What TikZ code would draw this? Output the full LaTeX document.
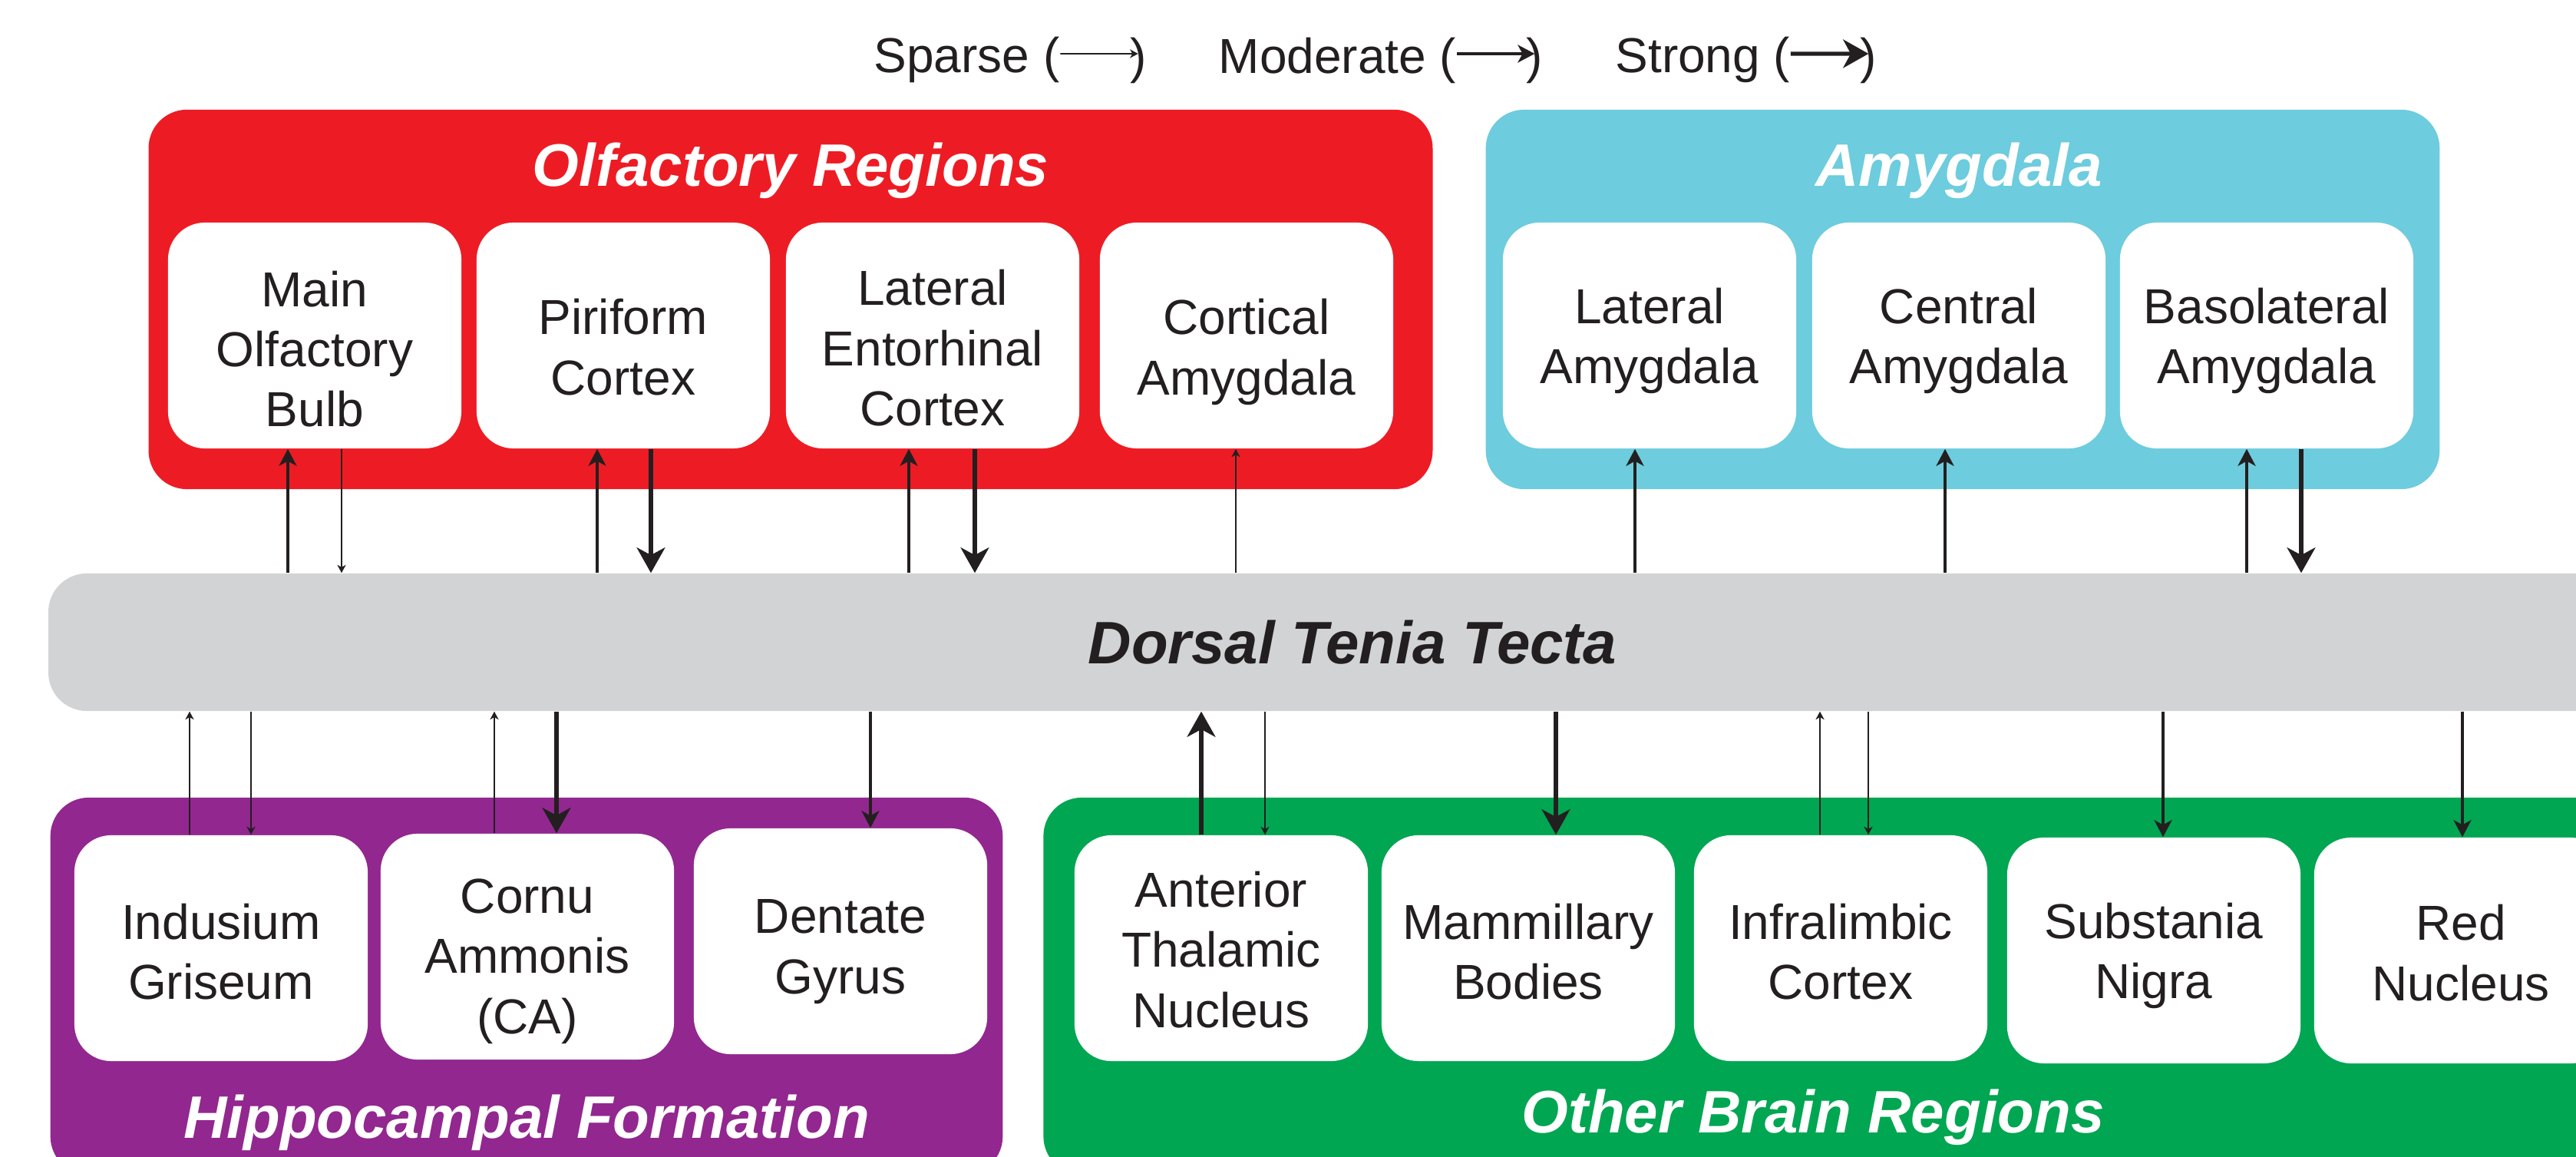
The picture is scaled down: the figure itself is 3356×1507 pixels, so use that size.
\documentclass[tikz,border=0pt]{standalone}
\usepackage{fontspec}
\setmainfont{Liberation Sans}
\usepackage{xcolor}
\definecolor{olfred}{RGB}{237,28,36}
\definecolor{amycyan}{RGB}{109,204,221}
\definecolor{hippurple}{RGB}{146,39,143}
\definecolor{othgreen}{RGB}{0,166,81}
\definecolor{dttgray}{RGB}{209,211,212}
\definecolor{ink}{RGB}{35,31,32}
\usepackage{tikz}
\usetikzlibrary{arrows.meta, positioning}

\newcommand{\regionfont}{\fontsize{18.2pt}{22.2pt}\selectfont}
\newcommand{\grouptitlefont}{\fontsize{22.2pt}{26pt}\selectfont\bfseries\itshape}

\begin{document}
\begin{tikzpicture}[
    x=0.01cm, y=-0.01cm,
    node distance=0.9cm,
    region/.style={
      rectangle, rounded corners=0.48cm,
      fill=white, text=ink,
      minimum width=3.82cm, minimum height=2.94cm,
      font=\regionfont, align=center,
      text depth=0pt, inner sep=0pt
    },
    % a taller text box pushes the text of a region box down
    drop/.style={text height=#1},
    group/.style={rectangle, rounded corners=0.5cm, inner sep=0pt},
    grouptitle/.style={font=\grouptitlefont, text=white, anchor=base},
    legendtext/.style={font=\regionfont, text=ink, inner sep=0pt},
    sparse/.style={-{Stealth[length=3pt, width=3.2pt, inset=0.9pt]}, line width=0.45pt, color=ink},
    moderate/.style={-{Stealth[length=6.3pt, width=6.6pt, inset=1.8pt]}, line width=0.9pt, color=ink},
    strong/.style={-{Stealth[length=9.4pt, width=10.5pt, inset=2.8pt]}, line width=1.45pt, color=ink}
  ]

  \useasboundingbox (0,0) rectangle (3356,1507);
  \clip (0,0) rectangle (3356,1507);

  % Legend
  \node[legendtext, anchor=base west] (sparsetxt) at (1138,95) {Sparse (};
  \node[legendtext, right=0.9cm of sparsetxt]    (sparsecls)   {)};
  \node[legendtext, right=0.93cm of sparsecls]   (moderatetxt) {Moderate (};
  \node[legendtext, right=0.9cm of moderatetxt]  (moderatecls) {)};
  \node[legendtext, right=0.93cm of moderatecls] (strongtxt)   {Strong (};
  \node[legendtext, right=0.9cm of strongtxt]    (strongcls)   {)};

  \draw[sparse]   ([yshift=0.25cm]sparsetxt.base east)   -- ([yshift=0.25cm]sparsecls.base);
  \draw[moderate] ([yshift=0.25cm]moderatetxt.base east) -- ([yshift=0.25cm]moderatecls.base);
  \draw[strong]   ([yshift=0.25cm]strongtxt.base east)   -- ([yshift=0.25cm]strongcls.base);

  % Region groups
  \node[group, fill=olfred,    minimum width=16.72cm, minimum height=4.94cm] (olf) at (1030,390) {};
  \node[group, fill=amycyan,   minimum width=12.42cm, minimum height=4.94cm] (amy) at (2557,390) {};
  \node[group, fill=hippurple, minimum width=12.40cm, minimum height=4.91cm] (hip) at (686,1284.5) {};
  \node[group, fill=othgreen,  minimum width=21.00cm, minimum height=4.91cm] (oth) at (2410,1284.5) {};
  \node[group, fill=dttgray, text=ink, font=\grouptitlefont,
        minimum width=33.96cm, minimum height=1.79cm] (dtt) at (1762,836.5) {Dorsal Tenia Tecta};

  \node[grouptitle] (olftitle) at (1030,243)  {Olfactory Regions};
  \node[grouptitle] (amytitle) at (2552,243)  {Amygdala};
  \node[grouptitle] (hiptitle) at (686,1482)  {Hippocampal Formation};
  \node[grouptitle] (othtitle) at (2362,1476) {Other Brain Regions};

  % Olfactory regions
  \node[region, drop=67.2pt] (mob) at (410,437)  {Main\\Olfactory\\Bulb};
  \node[region, drop=43.8pt] (pc)  at (812,437)  {Piriform\\Cortex};
  \node[region, drop=66.6pt] (lec) at (1215,437) {Lateral\\Entorhinal\\Cortex};
  \node[region, drop=43.8pt] (coa) at (1624,437) {Cortical\\Amygdala};

  % Amygdala
  \node[region] (la)  at (2149,437) {Lateral\\Amygdala};
  \node[region] (cea) at (2552,437) {Central\\Amygdala};
  \node[region] (bla) at (2953,437) {Basolateral\\Amygdala};

  % Hippocampal formation
  \node[region, drop=38.1pt] (ig) at (288,1235)  {Indusium\\Griseum};
  \node[region, drop=64.3pt] (ca) at (687,1233)  {Cornu\\Ammonis\\(CA)};
  \node[region, drop=38.7pt] (dg) at (1095,1226) {Dentate\\Gyrus};

  % Other brain regions
  \node[region, drop=58.6pt] (atn) at (1591,1235) {Anterior\\Thalamic\\Nucleus};
  \node[region, drop=38.1pt] (mb)  at (1991,1235) {Mammillary\\Bodies};
  \node[region, drop=38.1pt] (il)  at (2398,1235) {Infralimbic\\Cortex};
  \node[region]              (sn)  at (2806,1238) {Substania\\Nigra};
  \node[region, drop=37.0pt] (rn)  at (3206,1238) {Red\\Nucleus};

  % Arrows - upper row
  \draw[moderate] (dtt.north -| 375,0)  -- (mob.south -| 375,0);
  \draw[sparse]   (mob.south -| 445,0)  -- (dtt.north -| 445,0);
  \draw[moderate] (dtt.north -| 778,0)  -- (pc.south -| 778,0);
  \draw[strong]   (pc.south -| 848,0)   -- (dtt.north -| 848,0);
  \draw[moderate] (dtt.north -| 1184,0) -- (lec.south -| 1184,0);
  \draw[strong]   (lec.south -| 1270,0) -- (dtt.north -| 1270,0);
  \draw[sparse]   (dtt.north -| 1610,0) -- (coa.south -| 1610,0);
  \draw[moderate] (dtt.north -| 2130,0) -- (la.south -| 2130,0);
  \draw[moderate] (dtt.north -| 2534,0) -- (cea.south -| 2534,0);
  \draw[moderate] (dtt.north -| 2927,0) -- (bla.south -| 2927,0);
  \draw[strong]   (bla.south -| 2998,0) -- (dtt.north -| 2998,0);

  % Arrows - lower row
  \draw[sparse]   (ig.north -| 247,0)   -- (dtt.south -| 247,0);
  \draw[sparse]   (dtt.south -| 327,0)  -- (ig.north -| 327,0);
  \draw[sparse]   (ca.north -| 644,0)   -- (dtt.south -| 644,0);
  \draw[strong]   (dtt.south -| 725,0)  -- (ca.north -| 725,0);
  \draw[moderate] (dtt.south -| 1134,0) -- (dg.north -| 1134,0);
  \draw[strong]   (atn.north -| 1565,0) -- (dtt.south -| 1565,0);
  \draw[sparse]   (dtt.south -| 1648,0) -- (atn.north -| 1648,0);
  \draw[strong]   (dtt.south -| 2027,0) -- (mb.north -| 2027,0);
  \draw[sparse]   (il.north -| 2371,0)  -- (dtt.south -| 2371,0);
  \draw[sparse]   (dtt.south -| 2434,0) -- (il.north -| 2434,0);
  \draw[moderate] (dtt.south -| 2818,0) -- (sn.north -| 2818,0);
  \draw[moderate] (dtt.south -| 3208,0) -- (rn.north -| 3208,0);

\end{tikzpicture}
\end{document}
